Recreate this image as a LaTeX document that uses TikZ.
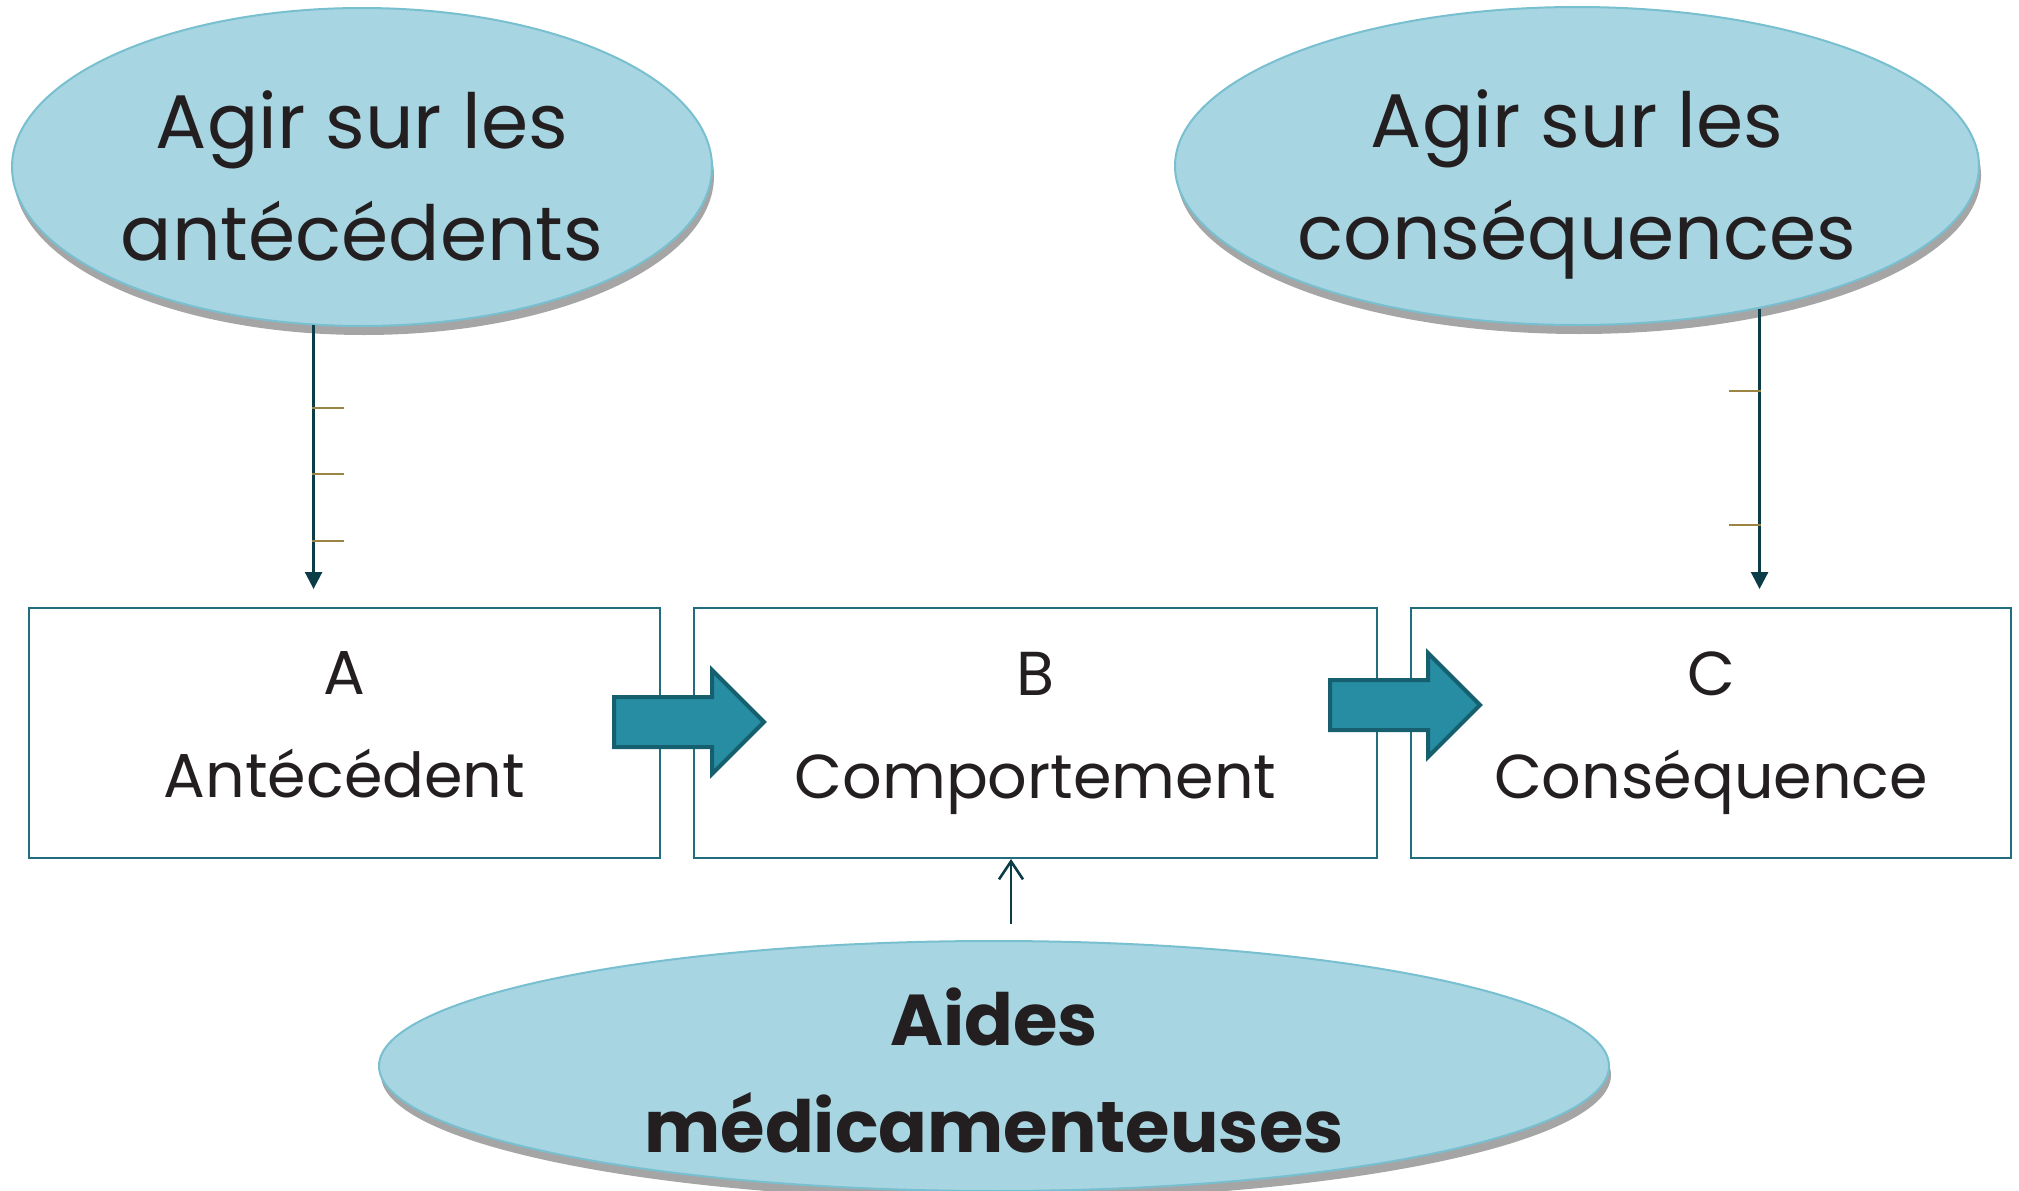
\documentclass[tikz,border=0pt]{standalone}
\usepackage{fontspec}
\setmainfont{Poppins}
\usetikzlibrary{shapes.geometric,shapes.arrows,shadows,arrows.meta,positioning}

\definecolor{bulle}{HTML}{A8D5E2}
\definecolor{bullebord}{HTML}{78BFD0}
\definecolor{cadre}{HTML}{216D7E}
\definecolor{fleche}{HTML}{278DA3}
\definecolor{flechebord}{HTML}{155F6E}
\definecolor{trait}{HTML}{0B3C48}
\definecolor{ocre}{HTML}{9B8444}
\definecolor{texte}{HTML}{231F20}

\tikzset{
  bulle/.style={ellipse, draw=bullebord, line width=2pt, fill=bulle, inner sep=0pt,
    drop shadow={shadow xshift=2pt, shadow yshift=-9pt, opacity=0.5, fill=black!70}},
  titre/.style={align=center, text=texte, font=\fontsize{76}{112}\selectfont},
  boite/.style={draw=cadre, line width=2pt, minimum height=250pt, inner sep=0pt,
    align=center, text=texte, font=\fontsize{62}{103}\selectfont},
  grossefleche/.style={single arrow, draw=flechebord, line width=4pt, fill=fleche,
    minimum height=150pt, single arrow head extend=27pt, inner xsep=0pt, inner ysep=23pt,
    anchor=tail},
  lien/.style={draw=trait, line width=2.6pt, -{Triangle[length=17pt,width=17pt]}},
  lienouvert/.style={draw=trait, line width=2.6pt, -{Straight Barb[length=18pt,width=24pt,line width=2.6pt]}},
  cran/.style={draw=ocre, line width=2.5pt},
}

\begin{document}
\begin{tikzpicture}[x=1pt,y=-1pt]
\useasboundingbox (0,0) rectangle (2019,1191);

% les trois cases A B C
\node[boite, minimum width=631pt] (A) at (344.5,733) {A\\Antécédent\vphantom{p}};
\node[boite, minimum width=683pt, right=32pt of A] (B) {B\\Comportement};
\node[boite, minimum width=600pt, right=32pt of B] (C) {C\\Conséquence};

% grosses fleches entre les cases
\node[grossefleche] (AB) at (612,722) {};
\node[grossefleche] (BC) at (1328,705) {};

% les bulles
\node[bulle, minimum width=700pt, minimum height=318pt] (antec) at (362,167) {};
\node[titre, yshift=-18pt] (tantec) at (antec.center) {Agir sur les\\antécédents\vphantom{q}};
\node[bulle, minimum width=804pt, minimum height=318pt] (conseq) at (1577,166) {};
\node[titre, yshift=-18pt] (tconseq) at (conseq.center) {Agir sur les\\conséquences};
\node[bulle, minimum width=1230pt, minimum height=250pt] (aides) at (994,1066) {};
\node[titre, font=\fontsize{72}{107}\selectfont\bfseries, yshift=-4pt] (taides) at (aides.center) {Aides\\médicamenteuses};

% fleches verticales
\draw[lien, shorten >=18pt] (antec.-107.6) -- (antec.-107.6 |- A.north);
\foreach \y in {408,474,541}
  \draw[cran] (312,\y) -- ++(32,0);
\draw[lien, shorten >=18pt] (conseq.-38.3) -- (conseq.-38.3 |- C.north);
\foreach \y in {391,525}
  \draw[cran] (1761,\y) -- ++(-32,0);
\coordinate (pied) at (1011,924);
\draw[lienouvert] (pied) -- (pied |- B.south);
\end{tikzpicture}
\end{document}
